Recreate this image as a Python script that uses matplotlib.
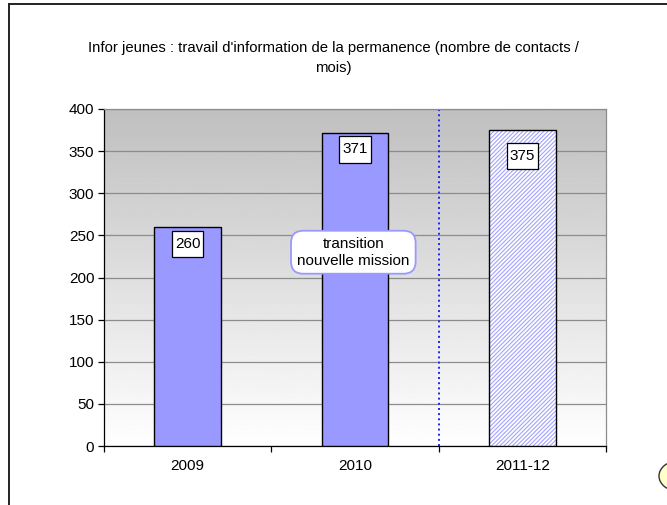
import matplotlib.pyplot as plt
import numpy as np
from matplotlib.patches import Ellipse
from matplotlib.lines import Line2D
from matplotlib.path import Path

plt.rcParams['font.family'] = ['Liberation Sans', 'DejaVu Sans']
plt.rcParams['hatch.linewidth'] = 0.8

# data
years = ['2009', '2010', '2011-12']
contacts = [260, 371, 375]
yticks = [0, 50, 100, 150, 200, 250, 300, 350, 400]
label_drop_px = [17, 16, 26]

title = "Infor jeunes : travail d'information de la permanence (nombre de contacts /\nmois)"
note = "transition\nnouvelle mission"


def label_box(x0, y0, width, height, mutation_size):
    # plain rectangle, a bit more padding top/bottom than left/right
    px, py = 0.2 * mutation_size, 0.42 * mutation_size
    x0, y0 = x0 - px, y0 - py
    x1, y1 = x0 + width + 2 * px, y0 + height + 2 * py
    return Path([(x0, y0), (x1, y0), (x1, y1), (x0, y1), (x0, y0)],
                closed=True)


fig = plt.figure(figsize=(6.67, 5.05), dpi=100)
ax = fig.add_axes([104 / 667, 1 - 446 / 505, (606 - 104) / 667, (446 - 109) / 505])

# gray (top) to white (bottom) gradient behind the bars
grad = np.linspace(1.0, 0.75, 256).reshape(-1, 1)
ax.imshow(grad, cmap='gray', vmin=0, vmax=1, aspect='auto', origin='lower',
          extent=[-0.5, 2.5, 0, 400], zorder=0)

x = np.arange(len(years))
ax.bar(x[:2], contacts[:2], width=0.4, color='#9999ff', edgecolor='black',
       linewidth=1, zorder=3)
# last bar: hatched (forecast)
ax.bar(x[2], contacts[2], width=0.4, color='white', edgecolor='#a3a3ff',
       hatch='////////', linewidth=0, zorder=3)
ax.bar(x[2], contacts[2], width=0.4, fill=False, edgecolor='black',
       linewidth=1, zorder=4)

for xi, v, d in zip(x, contacts, label_drop_px):
    ax.annotate(str(v), (xi, v), xytext=(0, -d * 0.72), textcoords='offset points',
                ha='center', va='center', fontsize=11, zorder=6,
                bbox=dict(boxstyle=label_box, fc='white', ec='black', lw=0.9))

ax.text(0.99, 230, note, ha='center', va='center', fontsize=11,
        linespacing=1.25, zorder=7,
        bbox=dict(boxstyle='round,pad=0.4,rounding_size=0.8', fc='white',
                  ec='#9999ff', lw=1.3))

ax.axvline(1.5, color='#2020ff', linestyle=':', linewidth=1.4, zorder=2)

ax.set_xlim(-0.5, 2.5)
ax.set_ylim(0, 400)
ax.set_yticks(yticks)
ax.set_yticklabels([str(t) for t in yticks], fontsize=11)
ax.yaxis.grid(True, color='#8c8c8c', linewidth=0.9, zorder=1)
ax.set_axisbelow(True)

ax.set_xticks([-0.5, 0.5, 1.5, 2.5])
ax.set_xticklabels([])
ax.set_xticks(x, minor=True)
ax.set_xticklabels(years, minor=True, fontsize=11)
ax.tick_params(axis='x', which='major', direction='out', length=4, width=0.9)
ax.tick_params(axis='x', which='minor', length=0, pad=9)
ax.tick_params(axis='y', direction='out', length=4, width=0.9, pad=3)

for side in ['top', 'right']:
    ax.spines[side].set_color('#8c8c8c')
    ax.spines[side].set_linewidth(0.9)
for side in ['left', 'bottom']:
    ax.spines[side].set_color('black')
    ax.spines[side].set_linewidth(0.9)

fig.text(0.5, 1 - 58 / 505, title, ha='center', va='center', fontsize=10.7,
         linespacing=1.6)

# outer chart frame (partly outside the picture)
fig.add_artist(Line2D([9 / 667, 9 / 667], [0, 1 - 4 / 505], color='#222222',
                      linewidth=1.4, transform=fig.transFigure))
fig.add_artist(Line2D([9 / 667, 1], [1 - 4 / 505, 1 - 4 / 505], color='#222222',
                      linewidth=1.4, transform=fig.transFigure))
# little callout shape cut off at the bottom right
fig.add_artist(Ellipse((678 / 667, 1 - 476 / 505), 38 / 667, 30 / 505,
                       fc='#ffffcc', ec='#333333', lw=1, transform=fig.transFigure))

fig.savefig('out.png', dpi=100)
